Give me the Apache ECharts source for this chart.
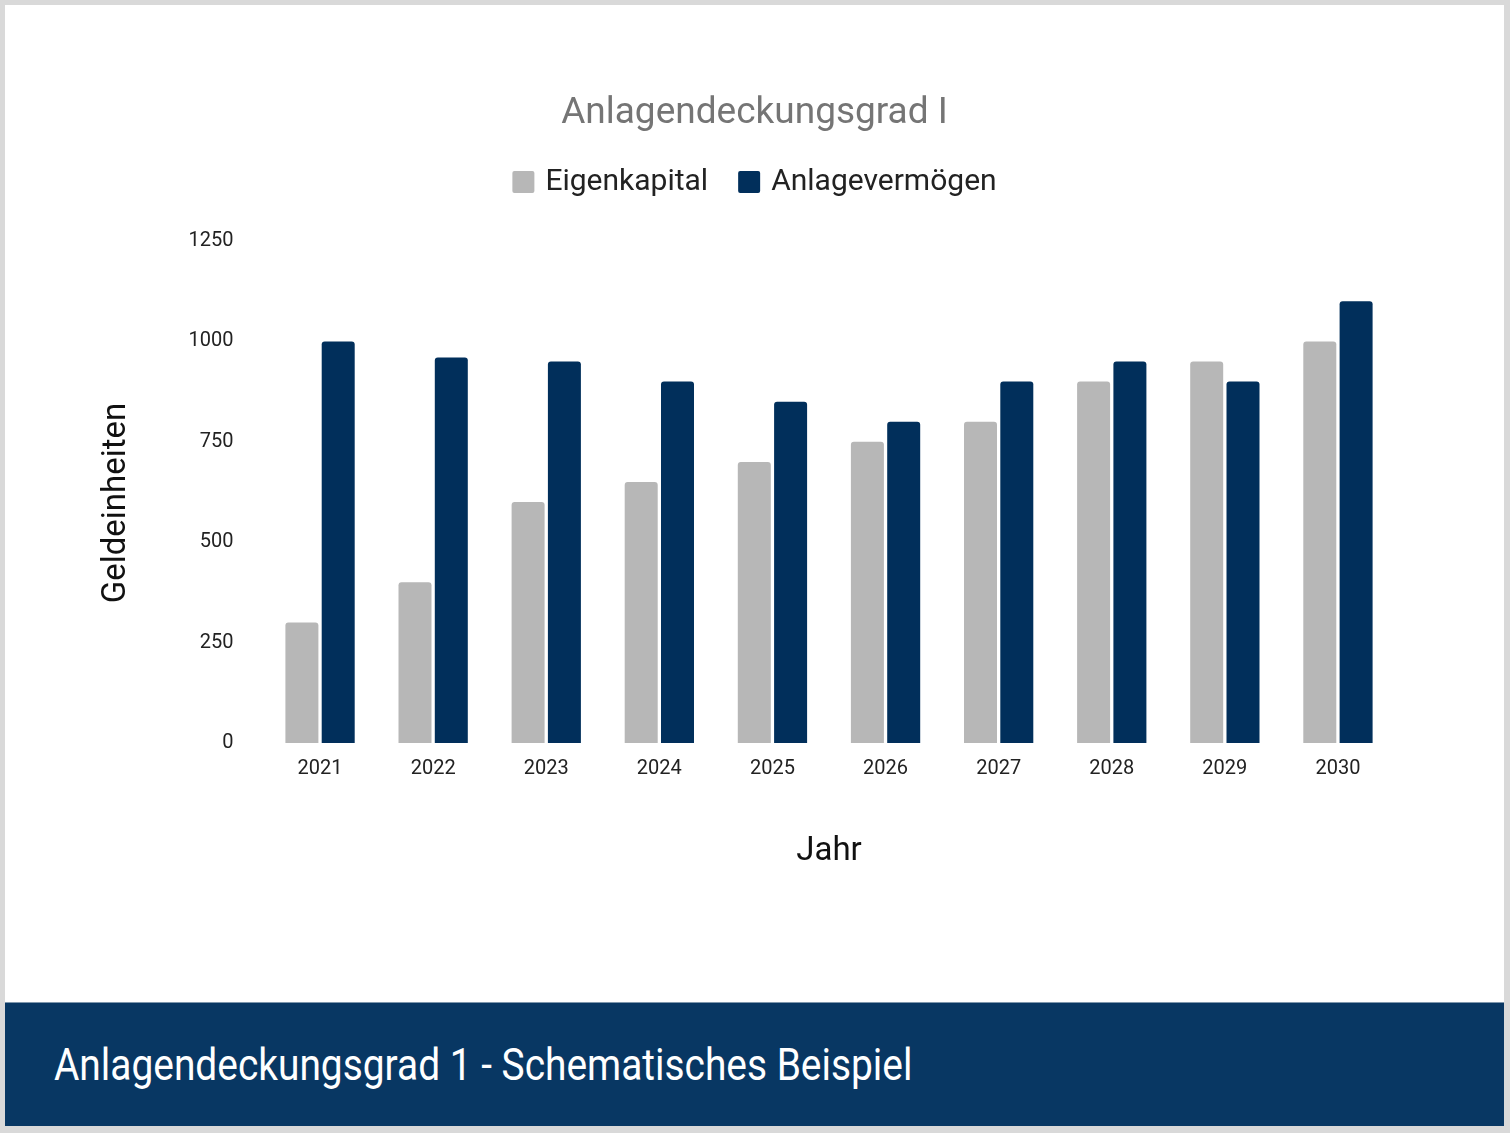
<!DOCTYPE html>
<html>
<head>
<meta charset="utf-8">
<script src="https://cdn.jsdelivr.net/npm/echarts@6/dist/echarts.min.js"></script>
<style>
  html, body { margin: 0; padding: 0; background: #d9d9d9; }
  .frame { position: absolute; left: 5px; top: 5px; width: 1499px; height: 997px; background: #fff; }
  #chart { width: 1499px; height: 997px; }
  .banner {
    position: absolute; left: 5px; top: 1002px; width: 1499px; height: 124px;
    background: #083763; border-top: 1px solid #7f97ad; box-sizing: border-box;
  }
  .banner span {
    position: absolute; left: 49px; top: 36px; color: #fff;
    font-family: Roboto, sans-serif; font-size: 44px; white-space: nowrap;
    transform-origin: 0 0; display: inline-block;
  }
</style>
</head>
<body>
<div class="frame"><div id="chart"></div></div>
<div class="banner"><span id="caption">Anlagendeckungsgrad 1 - Schematisches Beispiel</span></div>
<script>
// daten
var years = ['2021', '2022', '2023', '2024', '2025', '2026', '2027', '2028', '2029', '2030'];
var eigenkapital = [300, 400, 600, 650, 700, 750, 800, 900, 950, 1000];
var anlagevermoegen = [1000, 960, 950, 900, 850, 800, 900, 950, 900, 1100];

// schmale schrift nachbauen
var cap = document.getElementById('caption');
cap.style.transform = 'scaleX(' + (858 / cap.offsetWidth) + ')';

var myChart = echarts.init(document.getElementById('chart'));
var option = {
    textStyle: { fontFamily: 'Roboto' },
    title: {
        text: 'Anlagendeckungsgrad I',
        left: 'center',
        top: 85,
        textStyle: { color: '#757575', fontSize: 37, fontWeight: 'normal', fontFamily: 'Roboto' }
    },
    legend: {
        top: 162,
        left: 'center',
        padding: 0,
        itemWidth: 22,
        itemHeight: 22,
        itemGap: 30,
        icon: 'path://M2,0 L20,0 Q22,0 22,2 L22,20 Q22,22 20,22 L2,22 Q0,22 0,20 L0,2 Q0,0 2,0 Z',
        textStyle: { color: '#222', fontSize: 30, fontFamily: 'Roboto', padding: [0, 0, 0, 6] },
        data: ['Eigenkapital', 'Anlagevermögen']
    },
    grid: {
        left: 258.5,
        right: 109.5,
        top: 236,
        bottom: 259
    },
    xAxis: {
        type: 'category',
        data: years,
        name: 'Jahr',
        nameLocation: 'middle',
        nameGap: 92,
        nameTextStyle: { color: '#111', fontSize: 33, fontFamily: 'Roboto' },
        axisLine: { show: false },
        axisTick: { show: false },
        axisLabel: { color: '#222', fontSize: 20, margin: 16 }
    },
    yAxis: {
        type: 'value',
        min: 0,
        max: 1250,
        interval: 250,
        name: 'Geldeinheiten',
        nameLocation: 'middle',
        nameGap: 130,
        nameTextStyle: { color: '#111', fontSize: 33, fontFamily: 'Roboto', padding: [0, 22, 0, 0] },
        axisLine: { show: false },
        axisTick: { show: false },
        splitLine: { show: false },
        axisLabel: { color: '#222', fontSize: 20, margin: 30, formatter: function (v) { return String(v); } }
    },
    series: [
        {
            name: 'Eigenkapital',
            type: 'bar',
            data: eigenkapital,
            barWidth: 33,
            barGap: '10%',
            itemStyle: { color: '#b7b7b7', borderRadius: [3, 3, 0, 0] }
        },
        {
            name: 'Anlagevermögen',
            type: 'bar',
            data: anlagevermoegen,
            barWidth: 33,
            itemStyle: { color: '#012f5b', borderRadius: [3, 3, 0, 0] }
        }
    ]
};
myChart.setOption(option);
</script>
</body>
</html>
